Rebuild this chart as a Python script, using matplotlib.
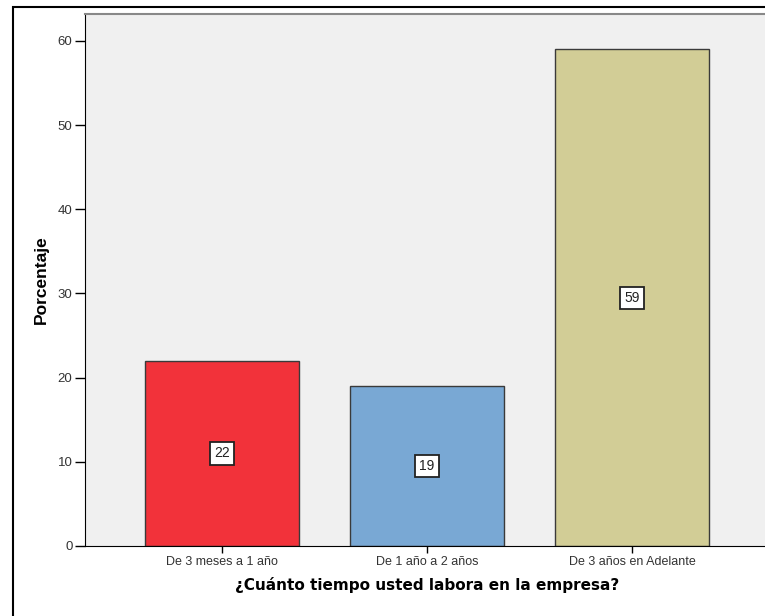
import matplotlib.pyplot as plt
from matplotlib.patches import Rectangle

categorias = ['De 3 meses a 1 año', 'De 1 año a 2 años', 'De 3 años en Adelante']
porcentajes = [22, 19, 59]
colores = ['#F2323A', '#79A8D4', '#D2CD96']

fig = plt.figure(figsize=(7.65, 6.16), dpi=100)
ax = fig.add_axes([85/765, 1 - 546/616, 684/765, 532/616])
ax.set_facecolor('#F0F0F0')

# outer frame of the chart (right and bottom edges fall outside the image)
fig.patches.append(Rectangle((13/765, -0.05), 1.1, 1 - 7/616 + 0.05,
                             transform=fig.transFigure, fill=False,
                             edgecolor='black', linewidth=1.5))

x = range(len(categorias))
ax.bar(x, porcentajes, width=0.75, color=colores, edgecolor='#3a3a3a', linewidth=1)

for i, v in zip(x, porcentajes):
    ax.text(i, v / 2, str(v), ha='center', va='center', fontsize=10,
            fontfamily='Liberation Sans', color='#222222',
            bbox=dict(boxstyle='square,pad=0.3', facecolor='white',
                      edgecolor='#222222', linewidth=1.3))

ax.set_xlim(-0.668, 2.668)
ax.set_ylim(0, 63.2)
ax.set_yticks([0, 10, 20, 30, 40, 50, 60])
ax.set_xticks(list(x))
ax.set_xticklabels(categorias, fontsize=9, fontfamily='Liberation Sans')
for lbl in ax.get_yticklabels():
    lbl.set_fontsize(9.5)
    lbl.set_fontfamily('Liberation Sans')
ax.tick_params(axis='both', direction='out', width=1, pad=2, labelcolor='#333333')
ax.tick_params(axis='y', length=7)
ax.tick_params(axis='x', length=5)

ax.spines['right'].set_visible(False)
ax.spines['top'].set_color('#888888')
ax.spines['top'].set_linewidth(1.5)
ax.spines['left'].set_color('black')
ax.spines['bottom'].set_color('black')

ax.set_ylabel('Porcentaje', fontsize=12.5, fontweight='bold', labelpad=6,
              fontfamily='Liberation Sans')
ax.set_xlabel('¿Cuánto tiempo usted labora en la empresa?', fontsize=11,
              fontweight='bold', labelpad=7)

fig.savefig('out.png', dpi=100)
